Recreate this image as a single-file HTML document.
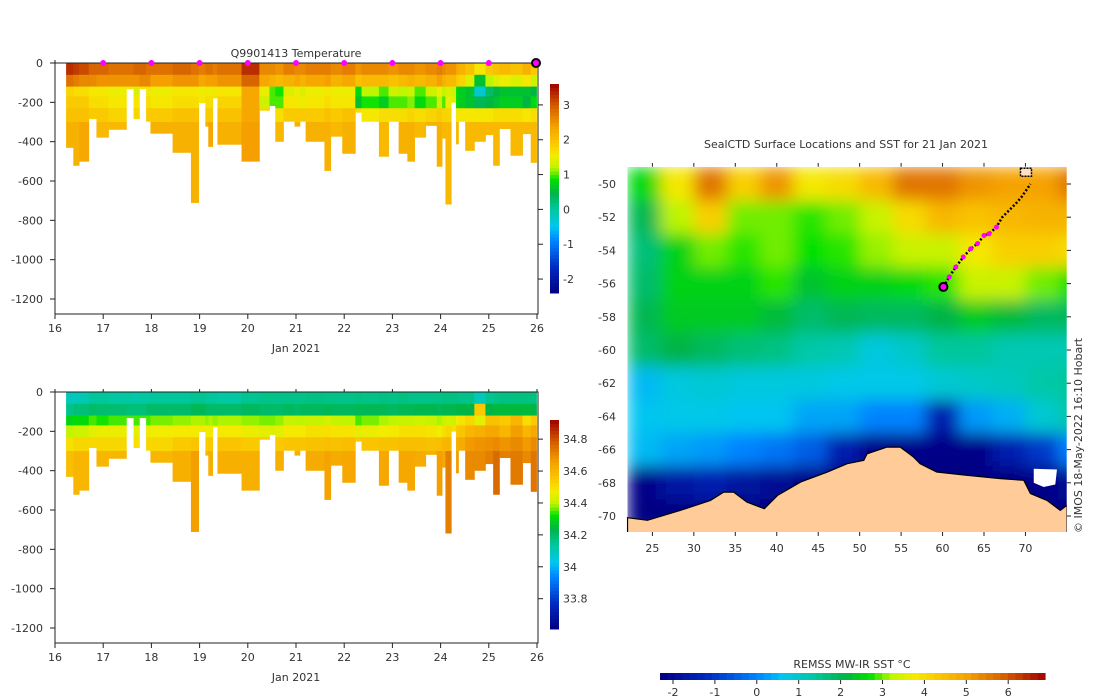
<!DOCTYPE html>
<html><head><meta charset="utf-8">
<style>
html,body{margin:0;padding:0;background:#fff;}
svg{display:block;font-family:"DejaVu Sans","Liberation Sans",sans-serif;}
text{fill:#333;font-size:11px;}
</style></head>
<body>
<svg id="fig" width="1100" height="700" viewBox="0 0 1100 700" xmlns="http://www.w3.org/2000/svg">
<defs>
<filter id="blur" x="0" y="0" width="1" height="1"><feGaussianBlur stdDeviation="8" edgeMode="duplicate"/></filter>
<clipPath id="mapclip"><rect x="626.7" y="166.7" width="440" height="365.3"/></clipPath>
</defs>
</svg>
<script>
// ---------- profile data ----------
const profStart=[16.23,16.38,16.50,16.70,16.86,17.11,17.48,17.63,17.75,17.89,17.98,18.44,18.82,18.98,19.12,19.18,19.27,19.37,19.87,20.24,20.45,20.57,20.74,20.97,21.08,21.20,21.59,21.72,21.96,22.23,22.36,22.72,22.92,23.13,23.31,23.46,23.69,23.92,24.03,24.10,24.22,24.32,24.37,24.51,24.70,24.93,25.09,25.22,25.45,25.70,25.87];
const profEndDay=25.99;
const profDepth=[430,521,500,283,378,338,131,283,131,297,358,455,710,202,322,425,178,414,500,241,217,399,297,322,297,399,547,373,460,251,297,475,297,460,500,378,318,526,383,718,200,412,297,445,399,365,521,334,470,360,506];
const layerEdges=[0,60,120,170,230,300,2000];
const tempL0=[3.3,3.2,3.1,2.9,2.9,2.8,2.8,2.9,2.9,2.8,2.8,2.9,2.8,2.7,2.8,2.8,2.7,2.8,3.3,2.6,2.6,2.5,2.7,2.6,2.6,2.7,2.7,2.6,2.7,2.5,2.6,2.6,2.5,2.6,2.6,2.5,2.6,2.7,2.6,2.5,2.5,2.3,2.2,2.0,1.6,1.9,2.0,2.1,2.0,2.2,1.9];
const tempL1=[2.8,2.7,2.6,2.6,2.5,2.5,2.5,2.5,2.6,2.6,2.4,2.5,2.5,2.3,2.4,2.4,2.4,2.5,2.9,2.3,2.2,2.1,2.2,2.3,2.2,2.3,2.4,2.2,2.3,2.0,2.1,2.1,2.0,2.1,2.2,2.1,2.2,2.4,2.2,2.1,2.1,1.9,1.8,1.4,0.6,1.2,1.4,1.5,1.4,1.6,1.3];
const tempL2=[1.8,1.7,1.7,1.6,1.6,1.5,1.5,1.4,1.6,1.6,1.5,1.6,1.6,1.5,1.6,1.5,1.6,1.6,2.3,1.5,1.0,0.9,1.4,1.5,1.4,1.5,1.6,1.5,1.5,0.8,1.2,1.0,1.3,1.2,1.3,1.0,1.3,1.5,1.2,1.4,1.3,0.8,0.7,0.6,-0.3,0.3,0.5,0.6,0.6,0.6,0.5];
const tempL3=[1.9,1.9,1.9,1.7,1.7,1.6,1.6,1.6,1.7,1.7,1.6,1.7,1.7,1.6,1.7,1.7,1.7,1.8,2.3,1.3,1.0,1.0,1.6,1.6,1.5,1.6,1.7,1.6,1.6,0.6,0.9,0.7,1.0,1.0,1.1,0.8,1.0,1.3,1.0,1.5,1.4,0.8,0.7,0.6,0.4,0.5,0.6,0.7,0.7,0.5,0.8];
const tempL4=[2.0,2.0,2.0,1.9,1.9,1.8,1.8,1.8,1.9,1.9,1.9,2.0,2.0,1.9,1.9,1.9,1.9,2.0,2.3,1.8,1.7,1.7,1.9,1.9,1.9,1.9,2.0,1.9,2.0,1.7,1.6,1.7,1.7,1.7,1.8,1.7,1.8,1.9,1.8,1.8,1.8,1.6,1.6,1.6,1.6,1.6,1.7,1.7,1.7,1.6,1.7];
const tempL5=[2.2,2.2,2.3,2.1,2.1,2.1,2.1,2.1,2.1,2.1,2.2,2.2,2.2,2.2,2.2,2.3,2.2,2.2,2.4,2.1,2.1,2.1,2.2,2.2,2.2,2.2,2.2,2.1,2.2,2.1,2.1,2.1,2.1,2.2,2.2,2.1,2.2,2.2,2.1,2.1,2.1,2.1,2.1,2.1,2.1,2.1,2.1,2.1,2.1,2.1,2.1];
const salL0=[34.10,34.10,34.11,34.14,34.14,34.13,34.13,34.12,34.13,34.13,34.14,34.14,34.15,34.15,34.14,34.14,34.14,34.13,34.15,34.16,34.16,34.16,34.16,34.16,34.16,34.17,34.16,34.16,34.16,34.17,34.16,34.17,34.16,34.17,34.16,34.16,34.16,34.16,34.17,34.17,34.17,34.17,34.16,34.16,34.10,34.15,34.16,34.17,34.17,34.17,34.17];
const salL1=[34.16,34.18,34.18,34.20,34.19,34.19,34.18,34.18,34.18,34.20,34.20,34.20,34.22,34.22,34.20,34.20,34.20,34.20,34.21,34.20,34.20,34.20,34.21,34.20,34.21,34.21,34.22,34.21,34.21,34.22,34.22,34.22,34.21,34.22,34.22,34.23,34.23,34.22,34.23,34.23,34.23,34.24,34.24,34.24,34.55,34.24,34.25,34.25,34.25,34.25,34.24];
const salL2=[34.30,34.31,34.31,34.35,34.33,34.35,34.35,34.35,34.35,34.35,34.37,34.38,34.39,34.39,34.38,34.39,34.38,34.39,34.38,34.37,34.37,34.38,34.41,34.40,34.40,34.41,34.43,34.41,34.40,34.35,34.37,34.39,34.40,34.41,34.41,34.42,34.41,34.39,34.41,34.43,34.42,34.47,34.49,34.52,34.45,34.57,34.57,34.55,34.6,34.5,34.55];
const salL3=[34.4,34.42,34.42,34.45,34.46,34.46,34.45,34.45,34.45,34.46,34.47,34.48,34.48,34.48,34.47,34.48,34.48,34.48,34.46,34.45,34.44,34.45,34.48,34.48,34.48,34.5,34.5,34.49,34.49,34.45,34.46,34.47,34.48,34.5,34.5,34.5,34.49,34.47,34.5,34.52,34.5,34.55,34.56,34.6,34.62,34.64,34.64,34.6,34.66,34.6,34.64];
const salL4=[34.5,34.52,34.52,34.52,34.52,34.52,34.5,34.5,34.5,34.52,34.52,34.55,34.56,34.55,34.54,34.55,34.55,34.56,34.55,34.55,34.54,34.55,34.56,34.56,34.56,34.57,34.58,34.57,34.58,34.55,34.56,34.57,34.57,34.58,34.58,34.58,34.57,34.58,34.6,34.6,34.6,34.62,34.63,34.67,34.68,34.69,34.7,34.68,34.7,34.67,34.7];
const salL5=[34.58,34.6,34.6,34.6,34.6,34.6,34.58,34.58,34.58,34.6,34.6,34.62,34.66,34.6,34.6,34.62,34.6,34.62,34.62,34.62,34.6,34.62,34.62,34.62,34.62,34.63,34.65,34.63,34.64,34.6,34.62,34.64,34.62,34.64,34.64,34.63,34.62,34.66,34.64,34.72,34.62,34.66,34.65,34.7,34.7,34.72,34.76,34.72,34.73,34.7,34.74];
const markerDays=[17,18,19,20,21,22,23,24,25];
const lastDay=26;
const dayTicks=[16,17,18,19,20,21,22,23,24,25,26];
const depthTicks=[0,-200,-400,-600,-800,-1000,-1200];
const tempTicks=[3,2,1,0,-1,-2];
const salTicks=[34.8,34.6,34.4,34.2,34,33.8];
const salTickLabels=["34.8","34.6","34.4","34.2","34","33.8"];
// ---------- map data ----------
const sstLonEdges=[22,26,30,34,38,42,46,50,54,58,62,66,70,74,78];
const sstLatEdges=[-49,-51,-53,-55,-57,-59,-61,-63,-65,-67,-69,-71];
const sstGrid=[
[2.6,3.8,5.6,4.2,5.2,3.8,4.0,4.6,5.6,5.6,5.2,5.0,5.0,5.6],
[2.0,3.2,4.2,3.0,3.0,2.8,3.0,3.3,4.0,4.6,4.4,4.6,4.7,4.7],
[1.7,2.5,3.0,2.8,3.0,2.7,2.8,3.1,3.3,3.3,3.8,4.2,4.2,4.0],
[1.8,2.5,2.5,2.5,2.8,2.3,2.5,2.5,2.6,2.8,3.3,3.3,3.0,2.7],
[2.0,2.4,2.4,2.4,2.2,1.8,2.0,1.9,1.9,2.1,2.4,2.2,1.9,1.9],
[1.8,2.1,1.9,1.7,1.6,1.3,1.2,0.8,1.0,1.4,1.4,1.2,1.2,1.2],
[0.5,0.8,0.9,0.8,0.8,0.8,0.7,0.7,0.7,0.9,1.0,1.1,1.3,1.4],
[0.6,0.7,0.7,0.6,0.6,0.3,0.3,0.0,0.0,-1.5,0.2,0.4,0.9,1.3],
[0.5,0.3,0.2,0.0,-0.2,-0.5,-1.5,-2.2,-2.2,-2.2,-2.2,-1.5,-1.0,0.0],
[-2.2,-1.7,-1.5,-1.8,-2.0,-2.2,-2.3,-2.3,-2.3,-2.3,-2.3,-2.3,-2.2,-2.0],
[-2.3,-2.3,-2.3,-2.3,-2.3,-2.3,-2.3,-2.3,-2.3,-2.3,-2.3,-2.3,-2.3,-2.3]];
const coastLon=[22.0,24.4,28.4,32.0,33.6,34.8,36.4,38.5,40.1,42.9,46.1,48.5,50.5,50.9,53.3,54.9,56.5,57.3,59.3,62.9,67.0,69.8,70.6,72.6,74.2,75.0,75.0,22.0];
const coastLat=[-70.1,-70.26,-69.66,-69.06,-68.56,-68.56,-69.16,-69.56,-68.76,-67.95,-67.35,-66.85,-66.65,-66.25,-65.85,-65.85,-66.45,-66.85,-67.35,-67.55,-67.75,-67.85,-68.65,-69.06,-69.66,-69.36,-71.0,-71.0];
const iceLon=[71.0,73.8,73.6,72.2,71.0];
const iceLat=[-67.15,-67.2,-68.1,-68.25,-68.0];
const trackLon=[60.1,60.8,61.6,62.5,63.4,64.2,65.0,65.6,66.5,67.2,68.0,68.8,69.5,70.2,70.6];
const trackLat=[-56.2,-55.6,-55.0,-54.4,-53.9,-53.6,-53.1,-53.0,-52.6,-52.0,-51.6,-51.2,-50.8,-50.3,-50.0];
const trackPink=[1,2,3,4,5,6,7,8];
const lonTicks=[25,30,35,40,45,50,55,60,65,70];
const latTicks=[-50,-52,-54,-56,-58,-60,-62,-64,-66,-68,-70];
const sstCbTicks=[-2,-1,0,1,2,3,4,5,6];

// ---------- helpers ----------
const NS="http://www.w3.org/2000/svg";
const svg=document.getElementById('fig');
function mk(tag,attrs,parent){const e=document.createElementNS(NS,tag);for(const k in attrs)e.setAttribute(k,attrs[k]);(parent||svg).appendChild(e);return e;}
function txt(x,y,s,anchor,parent,size){const t=mk('text',{x:x,y:y,'text-anchor':anchor||'middle'},parent);if(size)t.setAttribute('font-size',size);t.textContent=s;return t;}
const stops=[[0,0,0,130],[0.12,0,40,190],[0.25,0,130,255],[0.32,0,200,240],[0.40,0,200,160],[0.48,0,180,70],[0.545,0,225,0],[0.60,190,245,0],[0.66,245,235,0],[0.72,250,200,0],[0.80,245,160,0],[0.90,210,90,0],[1.0,160,0,0]];
function cmap(v,lo,hi){let t=(v-lo)/(hi-lo);t=Math.max(0,Math.min(1,t));for(let i=1;i<stops.length;i++){if(t<=stops[i][0]){const a=stops[i-1],b=stops[i];const f=(t-a[0])/(b[0]-a[0]);return 'rgb('+[1,2,3].map(j=>Math.round(a[j]+(b[j]-a[j])*f)).join(',')+')';}}return 'rgb(160,0,0)';}

// ---------- section plots ----------
function section(y0,yBottom,layers,vlo,vhi,cbY0,cbY1,cbTicks,cbLabels,nameP,withMarkers,title){
  const X=d=>55+(d-16)*48.2;
  const Y=dep=>y0+dep*(236/1200);
  const g=mk('g',{});
  
  
  for(let i=0;i<profStart.length;i++){
    const x1=X(profStart[i]),x2=X(i+1<profStart.length?profStart[i+1]:profEndDay);
    for(let L=0;L<6;L++){
      const top=layerEdges[L];if(top>=profDepth[i])break;
      const bot=Math.min(layerEdges[L+1],profDepth[i]);
      const r=mk('rect',{x:x1,y:Y(top),width:x2-x1+0.4,height:Y(bot)-Y(top)+0.3,fill:cmap(layers[L][i],vlo,vhi)},g);
      
      
    }
  }
  const ax=mk('g',{stroke:'#222','stroke-width':1,fill:'none'});
  
  
  mk('rect',{x:55,y:y0,width:483,height:yBottom-y0},ax);
  for(const d of dayTicks){mk('line',{x1:X(d),x2:X(d),y1:yBottom,y2:yBottom+5},ax);mk('line',{x1:X(d),x2:X(d),y1:y0,y2:y0-3},ax);
    const t=txt(X(d),yBottom+18,String(d));}
  for(const v of depthTicks){const yy=Y(-v);mk('line',{x1:50,x2:55,y1:yy,y2:yy},ax);
    const t=txt(43,yy+4,String(v),'end');}
  const xl=txt(296,yBottom+38,'Jan 2021');
  if(title){const tt=txt(296,y0-6,title);}
  const cb=mk('g',{});
  
  
  const n=60;
  for(let k=0;k<n;k++){const yy=cbY1-(k+1)*(cbY1-cbY0)/n;const v=vlo+(k+0.5)*(vhi-vlo)/n;mk('rect',{x:550,y:yy,width:9,height:(cbY1-cbY0)/n+0.5,fill:cmap(v,vlo,vhi)},cb);}
  cbTicks.forEach((v,i)=>{const yy=cbY1-(v-vlo)/(vhi-vlo)*(cbY1-cbY0);mk('line',{x1:538,x2:543,y1:yy,y2:yy,stroke:'#222'},cb);
    const t=txt(563,yy+4,cbLabels[i],'start',cb);});
  if(withMarkers){
    for(const d of markerDays){const c=mk('circle',{cx:X(d),cy:y0,r:3,fill:'#ff00ff'});}
    const c=mk('circle',{cx:X(lastDay)-1,cy:y0,r:4,fill:'#ff00ff',stroke:'#000','stroke-width':2});
    
    
  }
}
section(63,314,[tempL0,tempL1,tempL2,tempL3,tempL4,tempL5],-2.4,3.6,84,293,tempTicks,tempTicks.map(String),'temperature',true,'Q9901413  Temperature');
section(392,643,[salL0,salL1,salL2,salL3,salL4,salL5],33.61,34.92,420,629,salTicks,salTickLabels,'salinity',false,null);

// ---------- map ----------
const LX=lon=>626.7+(lon-21.9)*8.29;
const LY=lat=>184+(-50-lat)*16.6;
const mt=txt(846,148,'SealCTD Surface Locations and SST for 21 Jan 2021');


const mg=mk('g',{'clip-path':'url(#mapclip)'});


const field=mk('g',{filter:'url(#blur)'},mg);
for(let r=0;r<sstGrid.length;r++)for(let c=0;c<sstGrid[r].length;c++){
  const x1=LX(sstLonEdges[c]),x2=LX(sstLonEdges[c+1]),y1=LY(sstLatEdges[r]),y2=LY(sstLatEdges[r+1]);
  const e=mk('rect',{x:x1,y:y1,width:x2-x1+0.5,height:y2-y1+0.5,fill:cmap(sstGrid[r][c],-2.31,6.88)},field);
  
  
}
const land=mk('polygon',{points:coastLon.map((v,i)=>LX(v)+','+LY(coastLat[i])).join(' '),fill:'#ffcc99',stroke:'#000','stroke-width':1.2},mg);


const ice=mk('polygon',{points:iceLon.map((v,i)=>LX(v)+','+LY(iceLat[i])).join(' '),fill:'#fff'},mg);


const isl=mk('rect',{x:LX(69.4),y:LY(-49.05),width:11,height:8,fill:'#ffe0c0',stroke:'#000','stroke-width':1.5,'stroke-dasharray':'2,1'},mg);


const trk=mk('polyline',{points:trackLon.map((v,i)=>LX(v)+','+LY(trackLat[i])).join(' '),fill:'none',stroke:'#000','stroke-width':2.5,'stroke-dasharray':'2,2'},mg);


for(const i of trackPink){const c=mk('circle',{cx:LX(trackLon[i]),cy:LY(trackLat[i]),r:2.5,fill:'#ff00ff'},mg);}
const cur=mk('circle',{cx:LX(trackLon[0]),cy:LY(trackLat[0]),r:4,fill:'#ff00ff',stroke:'#000','stroke-width':2},mg);


const mframe=mk('g',{stroke:'#222',fill:'none'});


for(const v of lonTicks){mk('line',{x1:LX(v),x2:LX(v),y1:532,y2:536},mframe);mk('line',{x1:LX(v),x2:LX(v),y1:166.7,y2:163},mframe);
  const t=txt(LX(v),552,String(v));}
for(const v of latTicks){mk('line',{x1:1066.7,x2:1071,y1:LY(v),y2:LY(v)},mframe);
  const t=txt(616,LY(v)+4,String(v),'end');}
const cr=txt(0,0,'© IMOS 18-May-2022 16:10 Hobart','start',null,'10');
cr.setAttribute('transform','translate(1082,533) rotate(-90)');


const scb=mk('g',{});


const SX=v=>673+(v+2)*41.9;
const ns=52;
for(let k=0;k<ns;k++){const v=-2.31+(k+0.5)*(9.19/ns);const x1=SX(-2.31+k*9.19/ns);mk('rect',{x:x1,y:673,width:9.19/ns*41.9+0.5,height:7,fill:cmap(v,-2.31,6.88)},scb);}
for(const v of sstCbTicks){mk('line',{x1:SX(v),x2:SX(v),y1:680,y2:684,stroke:'#222'},scb);
  const t=txt(SX(v),696,String(v),'middle',scb);}
const sl=txt(852,668,'REMSS MW-IR SST °C');


</script>
</body></html>
